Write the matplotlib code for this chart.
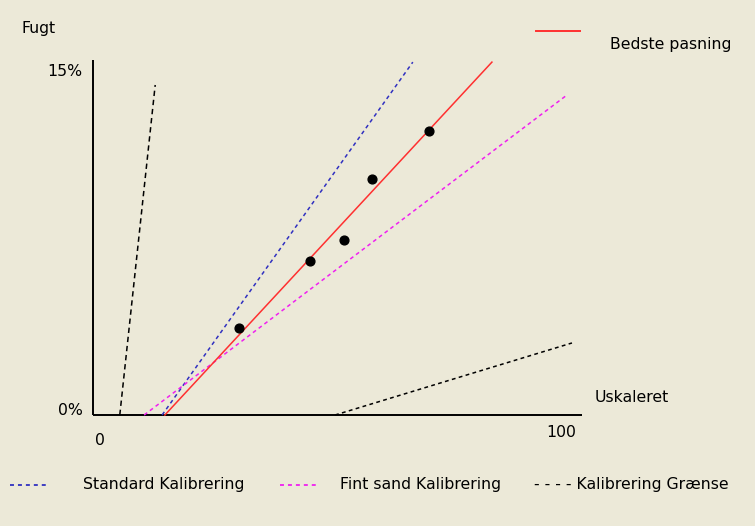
import numpy as np
import matplotlib.pyplot as plt

# data (x: uskaleret 0-100, y: fugt %)
points_x = [30.2, 45.7, 53.0, 59.1, 71.5]
points_y = [3.80, 6.73, 7.65, 10.32, 12.42]

best_x = [14.1, 85.2]
best_y = [0.0, 15.43]
standard_x = [13.5, 68.0]
standard_y = [0.0, 15.43]
fint_x = [9.6, 101.5]
fint_y = [0.0, 13.99]
graense1_x = [4.3, 12.0]
graense1_y = [0.0, 14.43]
graense2_x = [51.1, 102.6]
graense2_y = [0.0, 3.15]

legend_labels = ['Standard Kalibrering', 'Fint sand Kalibrering', '- - - - Kalibrering Grænse']

bg = '#ECE9D8'
plt.rcParams['font.family'] = ['DejaVu Sans']

fig = plt.figure(figsize=(7.55, 5.26), dpi=100, facecolor=bg)
ax = fig.add_axes([0, 0, 1, 1])
ax.set_facecolor(bg)
ax.set_xlim(-21.74, 142.39)
ax.set_ylim(-4.853, 18.146)
ax.axis('off')

# akser
ax.plot([-1.52, 104.8], [0, 0], color='black', lw=1.4, solid_capstyle='butt')
ax.plot([-1.52, -1.52], [0, 15.52], color='black', lw=1.4, solid_capstyle='butt')

ax.plot(graense1_x, graense1_y, color='black', lw=1.1, linestyle=(0, (3.5, 2.5)))
ax.plot(graense2_x, graense2_y, color='black', lw=1.1, linestyle=(0, (2.5, 2.2)))
ax.plot(standard_x, standard_y, color='#3030C0', lw=1.1, linestyle=(0, (2.5, 2.2)))
ax.plot(fint_x, fint_y, color='#F020F0', lw=1.1, linestyle=(0, (2.5, 2.2)))
ax.plot(best_x, best_y, color='#FF3030', lw=1.1)
ax.scatter(points_x, points_y, s=40, color='black', zorder=5)

fs = 11.3
ax.text(-17.0, 16.9, 'Fugt', fontsize=fs, va='center')
ax.text(-3.8, 15.0, '15%', fontsize=fs, va='center', ha='right')
ax.text(-3.8, 0.2, '0%', fontsize=fs, va='center', ha='right')
ax.text(0, -1.1, '0', fontsize=fs, va='center', ha='center')
ax.text(103.5, -0.75, '100', fontsize=fs, va='center', ha='right')
ax.text(107.6, 0.75, 'Uskaleret', fontsize=fs, va='center')

# signaturforklaring
ax.plot([94.8, 104.3], [16.79, 16.79], color='#FF3030', lw=1.4)
ax.text(110.9, 16.2, 'Bedste pasning', fontsize=fs, va='center')

ly = -3.06
ax.plot([-19.6, -11.3], [ly, ly], color='#3030C0', lw=1.3, linestyle=(0, (2.2, 2.2)))
ax.text(-3.7, ly, legend_labels[0], fontsize=fs, va='center')
ax.plot([39.1, 47.4], [ly, ly], color='#F020F0', lw=1.3, linestyle=(0, (2.2, 2.2)))
ax.text(52.2, ly, legend_labels[1], fontsize=fs, va='center')
ax.text(94.3, ly, legend_labels[2], fontsize=fs, va='center')

fig.savefig('out.png', dpi=100, facecolor=bg)
